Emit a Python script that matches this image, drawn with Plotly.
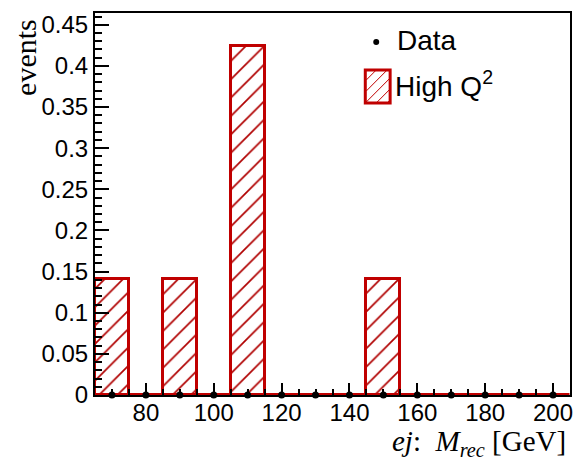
import plotly.graph_objects as go

# Data
bin_centers = [70, 80, 90, 100, 110, 120, 130, 140, 150, 160, 170, 180, 190, 200]
mc_values = [0.1414, 0, 0.1414, 0, 0.4243, 0, 0, 0, 0.1414, 0, 0, 0, 0, 0]
data_values = [0, 0, 0, 0, 0, 0, 0, 0, 0, 0, 0, 0, 0, 0]
bin_width = 10
y_tickvals = [0, 0.05, 0.1, 0.15, 0.2, 0.25, 0.3, 0.35, 0.4, 0.45]
y_ticktext = ["0", "0.05", "0.1", "0.15", "0.2", "0.25", "0.3", "0.35", "0.4", "0.45"]
x_tickvals = [80, 100, 120, 140, 160, 180, 200]
x_ticktext = ["80", "100", "120", "140", "160", "180", "200"]
legend_labels = ["Data", "High Q<sup>2</sup>"]

RED = "#c00000"
SANS = "Liberation Sans, Arial"
SERIF = "Liberation Serif, Times New Roman"

fig = go.Figure()
fig.add_trace(go.Bar(
    x=bin_centers, y=mc_values, width=bin_width, name=legend_labels[1],
    marker=dict(color="white", line=dict(color=RED, width=3),
                pattern=dict(shape="/", fgcolor="#b00000", bgcolor="white", size=13, solidity=0.13,
                             fgopacity=1)),
    showlegend=False,
))
fig.add_trace(go.Scatter(
    x=bin_centers, y=data_values, mode="markers", name=legend_labels[0],
    marker=dict(color="black", size=7), cliponaxis=False, showlegend=False,
))

# Manual legend (paper coordinates, ROOT-like TLegend)
W, H = 584, 465
L, R, T, B = 95, 11, 13, 70
pw, ph = W - L - R, H - T - B
def px(x):
    return (x - L) / pw
def py(y):
    return (H - B - y) / ph

shapes = [
    dict(type="circle", xref="paper", yref="paper", x0=px(375), x1=px(381), y0=py(45), y1=py(39),
         fillcolor="black", line=dict(color="black", width=0)),
    dict(type="rect", xref="paper", yref="paper", x0=px(367), x1=px(392), y0=py(103), y1=py(70),
         fillcolor="white", line=dict(color=RED, width=3)),
]
for k in range(-2, 4):
    x_start = 367 + k * 11
    x0, y0 = x_start, 103
    x1, y1 = x_start + 33, 70
    if x0 < 368:
        y0 = 103 - (368 - x0); x0 = 368
    if x1 > 391:
        y1 = 70 + (x1 - 391); x1 = 391
    if x0 < x1 and y0 > y1:
        shapes.append(dict(type="line", xref="paper", yref="paper", x0=px(x0), y0=py(y0), x1=px(x1), y1=py(y1),
                           line=dict(color=RED, width=1)))

axis_font = dict(family=SANS, size=24, color="black")
fig.update_layout(
    width=W, height=H,
    margin=dict(l=L, r=R, t=T, b=B),
    plot_bgcolor="white", paper_bgcolor="white",
    showlegend=False,
    bargap=0,
    shapes=shapes,
    xaxis=dict(range=[65, 205], showline=True, linecolor="black", linewidth=2, mirror=True,
               ticks="inside", ticklen=12, tickwidth=2, tickcolor="black",
               tickvals=x_tickvals, ticktext=x_ticktext, tickfont=axis_font, ticklabelstandoff=-5,
               minor=dict(dtick=5, tick0=65, ticks="inside", ticklen=6, tickwidth=2, tickcolor="black"),
               showgrid=False, zeroline=False),
    yaxis=dict(range=[0, 0.4643], showline=True, linecolor="black", linewidth=2, mirror=True,
               ticks="inside", ticklen=14, tickwidth=2, tickcolor="black",
               tickvals=y_tickvals, ticktext=y_ticktext, tickfont=axis_font,
               minor=dict(dtick=0.01, tick0=0, ticks="inside", ticklen=7, tickwidth=2, tickcolor="black"),
               showgrid=False, zeroline=False),
    annotations=[
        dict(text=legend_labels[0], xref="paper", yref="paper", x=px(397), y=py(40), xanchor="left", yanchor="middle",
             showarrow=False, font=dict(family=SANS, size=28, color="black")),
        dict(text=legend_labels[1], xref="paper", yref="paper", x=px(395), y=py(84), xanchor="left", yanchor="middle",
             showarrow=False, font=dict(family=SANS, size=28, color="black")),
        dict(text="events", xref="paper", yref="paper", x=px(25), y=py(17), xanchor="center", yanchor="top",
             textangle=-90, showarrow=False,
             font=dict(family=SERIF, size=30, color="black")),
        dict(text="<i>ej</i>:&nbsp;&nbsp;<i>M</i><sub><i>rec</i></sub>&nbsp;[GeV]", xref="paper", yref="paper",
             x=px(571), y=py(443), xanchor="right", yanchor="middle", showarrow=False,
             font=dict(family=SERIF, size=29, color="black")),
    ],
)

fig.write_html("out.html", config={"displayModeBar": False},
               post_script="document.body.style.margin='0';document.body.style.padding='0';")
